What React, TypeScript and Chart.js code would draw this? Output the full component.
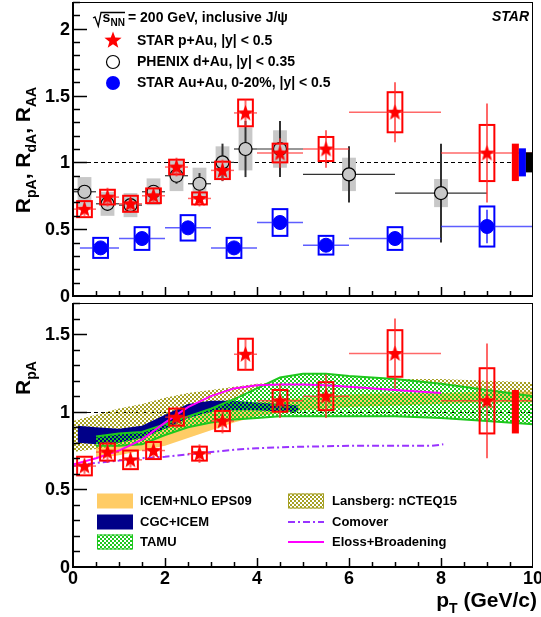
import React, { useEffect, useRef } from "react";
import { Chart, registerables } from "chart.js";
Chart.register(...registerables);

const FONT = '"Liberation Sans", Arial, Helvetica, sans-serif';

// ---------------- STAR p+Au (stars) ----------------
const starPt = [0.25, 0.75, 1.25, 1.75, 2.25, 2.75, 3.25, 3.75, 4.5, 5.5, 7, 9];
const starR = [0.65, 0.74, 0.69, 0.75, 0.965, 0.73, 0.94, 1.37, 1.07, 1.1, 1.375, 1.07];
const starXlo = [0, 0.5, 1, 1.5, 2, 2.5, 3, 3.5, 4, 5, 6, 8];
const starXhi = [0.5, 1, 1.5, 2, 2.5, 3, 3.5, 4, 5, 6, 8, 10];
const starStat = [0.05, 0.07, 0.05, 0.05, 0.07, 0.06, 0.08, 0.1, 0.11, 0.14, 0.225, 0.37];
const starSys = [0.06, 0.055, 0.06, 0.055, 0.055, 0.045, 0.065, 0.1, 0.07, 0.09, 0.15, 0.21];

// ---------------- PHENIX d+Au (open circles) ----------------
const phxPt = [0.25, 0.75, 1.25, 1.75, 2.25, 2.75, 3.25, 3.75, 4.5, 6, 8];
const phxR = [0.78, 0.69, 0.68, 0.78, 0.9, 0.84, 1.0, 1.1, 1.1, 0.91, 0.77];
const phxXlo = [0, 0.5, 1, 1.5, 2, 2.5, 3, 3.5, 4, 5, 7];
const phxXhi = [0.5, 1, 1.5, 2, 2.5, 3, 3.5, 4, 5, 7, 9];
const phxStat = [0.05, 0.05, 0.05, 0.05, 0.06, 0.08, 0.14, 0.21, 0.21, 0.21, 0.37];
const phxSys = [0.11, 0.09, 0.09, 0.1, 0.115, 0.12, 0.12, 0.16, 0.14, 0.125, 0.105];

// ---------------- STAR Au+Au 0-20% (blue circles) ----------------
const aaPt = [0.6, 1.5, 2.5, 3.5, 4.5, 5.5, 7, 9];
const aaR = [0.36, 0.43, 0.51, 0.36, 0.55, 0.38, 0.43, 0.52];
const aaXlo = [0.15, 1, 2, 3, 4, 5, 6, 8];
const aaXhi = [1, 2, 3, 4, 5, 6, 8, 10];
const aaStat = [0.03, 0.03, 0.03, 0.03, 0.04, 0.04, 0.05, 0.125];
const aaSys = [0.075, 0.085, 0.095, 0.075, 0.1, 0.07, 0.085, 0.15];

// ---------------- global uncertainties (around unity) ----------------
const globalErrTop = [0.14, 0.105, 0.075]; // STAR p+Au, STAR Au+Au, PHENIX d+Au
const globalErrBottom = [0.14];

// ---------------- models (bottom panel) ----------------
const icemX = [0.5, 1, 1.5, 2, 2.5, 3, 3.5, 4, 5, 6, 7, 8, 9, 10];
const icemLo = [0.7, 0.72, 0.75, 0.78, 0.83, 0.88, 0.93, 0.97, 1.01, 1.03, 1.04, 1.05, 1.06, 1.06];
const icemHi = [0.77, 0.82, 0.86, 0.91, 0.96, 1.0, 1.03, 1.06, 1.09, 1.11, 1.12, 1.12, 1.13, 1.13];

const cgcX = [0.1, 0.5, 1, 1.5, 2, 2.5, 3, 3.5, 4, 4.5, 4.9];
const cgcLo = [0.8, 0.79, 0.8, 0.83, 0.89, 0.96, 1.0, 1.01, 1.01, 1.0, 1.0];
const cgcHi = [0.91, 0.9, 0.89, 0.91, 0.98, 1.05, 1.07, 1.07, 1.06, 1.05, 1.04];

const tamuX = [0.5, 1, 1.5, 2, 2.5, 3, 3.5, 4, 4.5, 5, 5.5, 6, 7, 8, 9, 10];
const tamuLo = [0.78, 0.78, 0.79, 0.85, 0.9, 0.93, 0.95, 0.96, 0.97, 0.97, 0.97, 0.97, 0.97, 0.96, 0.94, 0.92];
const tamuHi = [0.84, 0.86, 0.87, 0.92, 0.97, 1.02, 1.08, 1.15, 1.22, 1.245, 1.245, 1.23, 1.21, 1.18, 1.14, 1.1];

const lansX = [0, 0.5, 1, 1.5, 2, 2.5, 3, 3.5, 4, 5, 6, 7, 8, 9, 10];
const lansLo = [0.74, 0.76, 0.78, 0.82, 0.87, 0.91, 0.95, 0.98, 1.0, 1.04, 1.06, 1.07, 1.08, 1.08, 1.08];
const lansHi = [0.94, 0.98, 1.02, 1.05, 1.09, 1.12, 1.14, 1.16, 1.18, 1.2, 1.21, 1.21, 1.21, 1.2, 1.19];

const comoverX = [0, 0.5, 1, 1.5, 2, 2.5, 3, 3.5, 4, 4.5, 5, 6, 7, 7.8, 8.05];
const comoverY = [0.65, 0.67, 0.685, 0.7, 0.71, 0.725, 0.74, 0.755, 0.765, 0.77, 0.775, 0.78, 0.78, 0.78, 0.79];

const elossX = [0, 0.5, 1, 1.5, 2, 2.5, 3, 3.5, 4, 4.5, 5, 5.5, 6, 7, 8];
const elossY = [0.66, 0.7, 0.75, 0.82, 0.93, 1.03, 1.1, 1.15, 1.17, 1.175, 1.175, 1.17, 1.16, 1.14, 1.12];

// ---------------- tick labels ----------------
const xTickValues = [0, 2, 4, 6, 8, 10];
const xTickLabels = ["0", "2", "4", "6", "8", "10"];
const yTickValuesTop = [0, 0.5, 1, 1.5, 2];
const yTickLabelsTop = ["0", "0.5", "1", "1.5", "2"];
const yTickValuesBottom = [0, 0.5, 1, 1.5];
const yTickLabelsBottom = ["0", "0.5", "1", "1.5"];

const zip = (xs: number[], ys: number[]) => xs.map((x, i) => ({ x, y: ys[i] }));

function starPath(ctx: CanvasRenderingContext2D, cx: number, cy: number, R: number) {
  const r = R * 0.42;
  ctx.beginPath();
  for (let i = 0; i < 10; i++) {
    const a = -Math.PI / 2 + (i * Math.PI) / 5;
    const rr = i % 2 === 0 ? R : r;
    const px = cx + rr * Math.cos(a);
    const py = cy + rr * Math.sin(a);
    if (i === 0) ctx.moveTo(px, py);
    else ctx.lineTo(px, py);
  }
  ctx.closePath();
}

function makeStarImage(R: number, color: string) {
  const c = document.createElement("canvas");
  const s = Math.ceil(R * 2 + 2);
  c.width = s;
  c.height = s;
  const g = c.getContext("2d")!;
  starPath(g, s / 2, s / 2 + 0.5, R);
  g.fillStyle = color;
  g.fill();
  return c;
}

function makePattern(ctx: CanvasRenderingContext2D, color: string) {
  const c = document.createElement("canvas");
  c.width = 4;
  c.height = 4;
  const g = c.getContext("2d")!;
  g.fillStyle = color;
  g.fillRect(0, 0, 4, 4);
  g.clearRect(0, 0, 2, 2);
  g.clearRect(2, 2, 2, 2);
  return ctx.createPattern(c, "repeat")!;
}

type Part = [string, number];
function drawRich(
  ctx: CanvasRenderingContext2D,
  parts: Part[],
  x: number,
  y: number,
  size: number,
  subSize: number,
  align: "left" | "center" | "right",
  rot = false
) {
  ctx.save();
  ctx.translate(x, y);
  if (rot) ctx.rotate(-Math.PI / 2);
  ctx.textBaseline = "alphabetic";
  ctx.textAlign = "left";
  ctx.fillStyle = "#000";
  const widths = parts.map(([t, s]) => {
    ctx.font = `bold ${s ? subSize : size}px ${FONT}`;
    return ctx.measureText(t).width;
  });
  const W = widths.reduce((a, b) => a + b, 0);
  let u = align === "left" ? 0 : align === "center" ? -W / 2 : -W;
  parts.forEach(([t, s], i) => {
    ctx.font = `bold ${s ? subSize : size}px ${FONT}`;
    ctx.fillText(t, u, s ? size * 0.28 : 0);
    u += widths[i];
  });
  ctx.restore();
}

function drawFrame(chart: any, ymax: number, yVals: number[], yLabels: string[], xLabelsOn: boolean) {
  const { ctx, chartArea: a } = chart;
  const xs = chart.scales.x;
  const ys = chart.scales.y;
  ctx.save();
  ctx.strokeStyle = "#000";
  ctx.lineWidth = 1.5;
  for (let k = 1; k < 20; k++) {
    const v = k * 0.5;
    const len = k % 4 === 0 ? 9 : 5;
    const px = Math.round(xs.getPixelForValue(v)) + 0.5;
    ctx.beginPath();
    ctx.moveTo(px, a.bottom);
    ctx.lineTo(px, a.bottom - len);
    ctx.stroke();
  }
  for (let k = 1; k * 0.1 <= ymax + 1e-9; k++) {
    const len = k % 5 === 0 ? 14 : 7;
    const py = Math.round(ys.getPixelForValue(k * 0.1)) + 0.5;
    ctx.beginPath();
    ctx.moveTo(a.left, py);
    ctx.lineTo(a.left + len, py);
    ctx.stroke();
  }
  ctx.lineWidth = 1;
  ctx.strokeRect(a.left + 0.5, a.top + 0.5, a.right - a.left - 1, a.bottom - a.top - 1);
  ctx.lineWidth = 2;
  ctx.beginPath();
  ctx.moveTo(a.left, a.top);
  ctx.lineTo(a.left, a.bottom);
  ctx.lineTo(a.right, a.bottom);
  ctx.stroke();
  // tick labels
  ctx.fillStyle = "#000";
  ctx.font = `bold 18px ${FONT}`;
  ctx.textAlign = "right";
  ctx.textBaseline = "middle";
  yVals.forEach((v, i) => ctx.fillText(yLabels[i], a.left - 3, ys.getPixelForValue(v) + 1));
  if (xLabelsOn) {
    ctx.textAlign = "center";
    xTickValues.forEach((v, i) => ctx.fillText(xTickLabels[i], xs.getPixelForValue(v), a.bottom + 12));
  }
  ctx.restore();
}

const errPlugin = {
  id: "errs",
  beforeDatasetDraw(chart: any, args: any) {
    const ds: any = chart.data.datasets[args.index];
    const e = ds.errs;
    if (!e) return;
    const ctx = chart.ctx;
    const xs = chart.scales.x;
    const ys = chart.scales.y;
    ctx.save();
    ds.data.forEach((p: any, i: number) => {
      const x0 = xs.getPixelForValue(p.x - e.boxHalf);
      const x1 = xs.getPixelForValue(p.x + e.boxHalf);
      const y0 = ys.getPixelForValue(p.y + e.sys[i]);
      const y1 = ys.getPixelForValue(p.y - e.sys[i]);
      if (e.boxFill) {
        ctx.fillStyle = e.boxFill;
        ctx.fillRect(x0, y0, x1 - x0, y1 - y0);
      }
      if (e.boxStroke) {
        ctx.strokeStyle = e.boxStroke;
        ctx.lineWidth = e.boxLw;
        ctx.strokeRect(x0, y0, x1 - x0, y1 - y0);
      }
    });
    ds.data.forEach((p: any, i: number) => {
      const px = xs.getPixelForValue(p.x);
      const py = ys.getPixelForValue(p.y);
      ctx.strokeStyle = e.barColor;
      ctx.lineWidth = e.hLw;
      ctx.beginPath();
      ctx.moveTo(xs.getPixelForValue(e.xlo[i]), py);
      ctx.lineTo(xs.getPixelForValue(e.xhi[i]), py);
      ctx.stroke();
      ctx.lineWidth = e.vLw;
      ctx.beginPath();
      ctx.moveTo(px, ys.getPixelForValue(p.y + e.stat[i]));
      ctx.lineTo(px, ys.getPixelForValue(p.y - e.stat[i]));
      ctx.stroke();
    });
    ctx.restore();
  },
};

function unityLine(chart: any) {
  const { ctx } = chart;
  const xs = chart.scales.x;
  const ys = chart.scales.y;
  const py = Math.round(ys.getPixelForValue(1)) + 0.5;
  ctx.save();
  ctx.strokeStyle = "#000";
  ctx.lineWidth = 1.2;
  ctx.setLineDash([4, 3]);
  ctx.beginPath();
  ctx.moveTo(xs.getPixelForValue(0), py);
  ctx.lineTo(xs.getPixelForValue(10), py);
  ctx.stroke();
  ctx.restore();
}

function globalBoxes(chart: any, errs: number[], colors: string[]) {
  const { ctx } = chart;
  const xs = chart.scales.x;
  const ys = chart.scales.y;
  const w = 0.153;
  ctx.save();
  errs.forEach((e, i) => {
    const x0 = xs.getPixelForValue(9.54 + i * w);
    const x1 = xs.getPixelForValue(9.54 + (i + 1) * w);
    const y0 = ys.getPixelForValue(1 + e);
    const y1 = ys.getPixelForValue(1 - e);
    ctx.fillStyle = colors[i];
    ctx.fillRect(x0, y0, x1 - x0, y1 - y0);
  });
  ctx.restore();
}

export default function App() {
  const topRef = useRef<HTMLCanvasElement>(null);
  const botRef = useRef<HTMLCanvasElement>(null);

  useEffect(() => {
    const topCanvas = topRef.current!;
    const botCanvas = botRef.current!;
    const starImg = makeStarImage(8.5, "#FF0000");
    const botCtx = botCanvas.getContext("2d")!;
    const OLIVE = "rgb(165,160,35)";
    const olivePat = makePattern(botCtx, OLIVE);
    const GREEN = "rgb(30,200,30)";
    const greenPat = makePattern(botCtx, GREEN);
    const ORANGE = "rgb(255,204,102)";
    const NAVY = "rgb(0,0,136)";
    const PURPLE = "rgb(153,51,255)";
    const MAGENTA = "#FF00FF";

    const starErrs = {
      xlo: starXlo,
      xhi: starXhi,
      stat: starStat,
      sys: starSys,
      boxHalf: 0.16,
      boxStroke: "#FF0000",
      boxLw: 2,
      barColor: "rgba(255,40,40,0.7)",
      hLw: 1.5,
      vLw: 2,
    };

    const topChart = new Chart(topCanvas, {
      type: "scatter",
      data: {
        datasets: [
          {
            label: "STAR p+Au, |y| < 0.5",
            data: zip(starPt, starR),
            pointStyle: starImg as any,
            pointRadius: 9,
            errs: starErrs,
          } as any,
          {
            label: "STAR Au+Au, 0-20%, |y| < 0.5",
            data: zip(aaPt, aaR),
            pointStyle: "circle",
            pointRadius: 7,
            backgroundColor: "#0000FF",
            borderColor: "#0000FF",
            borderWidth: 1,
            errs: {
              xlo: aaXlo,
              xhi: aaXhi,
              stat: aaStat,
              sys: aaSys,
              boxHalf: 0.16,
              boxStroke: "#0000FF",
              boxLw: 2,
              barColor: "rgba(40,40,255,0.75)",
              hLw: 1.5,
              vLw: 2,
            },
          } as any,
          {
            label: "PHENIX d+Au, |y| < 0.35",
            data: zip(phxPt, phxR),
            pointStyle: "circle",
            pointRadius: 6.5,
            backgroundColor: "#C8C8C8",
            borderColor: "#000",
            borderWidth: 1.2,
            errs: {
              xlo: phxXlo,
              xhi: phxXhi,
              stat: phxStat,
              sys: phxSys,
              boxHalf: 0.15,
              boxFill: "#C8C8C8",
              barColor: "rgb(50,50,50)",
              hLw: 1.2,
              vLw: 2,
            },
          } as any,
        ],
      },
      options: {
        animation: false,
        responsive: false,
        events: [],
        layout: { autoPadding: false, padding: { left: 73, right: 8, top: 2, bottom: 14 } },
        plugins: { legend: { display: false }, tooltip: { enabled: false } },
        scales: {
          x: { type: "linear", min: 0, max: 10, display: false },
          y: { type: "linear", min: 0, max: 2.2, display: false },
        },
      },
      plugins: [
        errPlugin,
        {
          id: "topDecor",
          beforeDatasetsDraw(chart: any) {
            unityLine(chart);
          },
          afterDatasetsDraw(chart: any) {
            globalBoxes(chart, globalErrTop, ["#FF0000", "#0000FF", "#000000"]);
          },
          afterDraw(chart: any) {
            const ctx = chart.ctx;
            drawFrame(chart, 2.2, yTickValuesTop, yTickLabelsTop, false);
            drawRich(
              ctx,
              [["R", 0], ["pA", 1], [", R", 0], ["dA", 1], [", R", 0], ["AA", 1]],
              30,
              150,
              21,
              14,
              "center",
              true
            );
            ctx.save();
            // sqrt(s_NN) header
            ctx.strokeStyle = "#000";
            ctx.lineWidth = 1.3;
            ctx.beginPath();
            ctx.moveTo(93, 18);
            ctx.lineTo(95, 17);
            ctx.lineTo(98.3, 26);
            ctx.lineTo(101, 12.5);
            ctx.lineTo(125, 12.5);
            ctx.stroke();
            ctx.fillStyle = "#000";
            ctx.textBaseline = "alphabetic";
            ctx.textAlign = "left";
            ctx.font = `bold 14px ${FONT}`;
            ctx.fillText("s", 102.5, 22);
            ctx.font = `bold 10px ${FONT}`;
            ctx.fillText("NN", 110.5, 26);
            ctx.font = `bold 14px ${FONT}`;
            ctx.fillText("= 200 GeV, inclusive J/\u03C8", 128, 22);
            // STAR label
            ctx.font = `italic bold 14px ${FONT}`;
            ctx.textAlign = "right";
            ctx.fillText("STAR", 529, 21);
            // legend markers
            starPath(ctx, 113, 40.5, 9);
            ctx.fillStyle = "#FF0000";
            ctx.fill();
            ctx.beginPath();
            ctx.arc(113, 62, 6.5, 0, Math.PI * 2);
            ctx.fillStyle = "#FFFFFF";
            ctx.fill();
            ctx.lineWidth = 1.2;
            ctx.strokeStyle = "#000";
            ctx.stroke();
            ctx.beginPath();
            ctx.arc(113, 83, 7, 0, Math.PI * 2);
            ctx.fillStyle = "#0000FF";
            ctx.fill();
            ctx.fillStyle = "#000";
            ctx.textAlign = "left";
            ctx.textBaseline = "middle";
            ctx.font = `bold 14px ${FONT}`;
            ctx.fillText("STAR p+Au, |y| < 0.5", 137, 41);
            ctx.fillText("PHENIX d+Au, |y| < 0.35", 137, 62);
            ctx.fillText("STAR Au+Au, 0-20%, |y| < 0.5", 137, 83);
            ctx.restore();
          },
        },
      ],
    } as any);

    const band = (xs: number[], lo: number[], hi: number[], fill: any, line: string) => [
      {
        type: "line",
        data: zip(xs, lo),
        borderColor: line,
        borderWidth: 2,
        pointRadius: 0,
        fill: false,
        tension: 0,
      },
      {
        type: "line",
        data: zip(xs, hi),
        borderColor: line,
        borderWidth: 2,
        pointRadius: 0,
        fill: "-1",
        backgroundColor: fill,
        tension: 0,
      },
    ];

    const botChart = new Chart(botCanvas, {
      type: "scatter",
      data: {
        datasets: [
          {
            label: "STAR p+Au",
            data: zip(starPt, starR),
            pointStyle: starImg as any,
            pointRadius: 9,
            errs: starErrs,
          } as any,
          {
            type: "line",
            label: "Eloss+Broadening",
            data: zip(elossX, elossY),
            borderColor: MAGENTA,
            borderWidth: 2,
            pointRadius: 0,
            fill: false,
            tension: 0,
          },
          {
            type: "line",
            label: "Comover",
            data: zip(comoverX, comoverY),
            borderColor: PURPLE,
            borderWidth: 2,
            borderDash: [7, 3, 2, 3],
            pointRadius: 0,
            fill: false,
            tension: 0,
          },
          ...band(tamuX, tamuLo, tamuHi, greenPat, GREEN),
          ...band(cgcX, cgcLo, cgcHi, NAVY, "rgba(0,0,0,0)"),
          ...band(lansX, lansLo, lansHi, olivePat, "rgba(0,0,0,0)"),
          ...band(icemX, icemLo, icemHi, ORANGE, "rgba(0,0,0,0)"),
        ] as any,
      },
      options: {
        animation: false,
        responsive: false,
        events: [],
        layout: { autoPadding: false, padding: { left: 73, right: 8, top: 3, bottom: 50 } },
        plugins: { legend: { display: false }, tooltip: { enabled: false } },
        scales: {
          x: { type: "linear", min: 0, max: 10, display: false },
          y: { type: "linear", min: 0, max: 1.7, display: false },
        },
      },
      plugins: [
        errPlugin,
        {
          id: "botDecor",
          beforeDatasetsDraw(chart: any) {
            unityLine(chart);
          },
          afterDatasetsDraw(chart: any) {
            globalBoxes(chart, globalErrBottom, ["#FF0000"]);
          },
          afterDraw(chart: any) {
            const ctx = chart.ctx;
            drawFrame(chart, 1.7, yTickValuesBottom, yTickLabelsBottom, true);
            drawRich(ctx, [["R", 0], ["pA", 1]], 30, 78, 21, 14, "center", true);
            drawRich(ctx, [["p", 0], ["T", 1], [" (GeV/c)", 0]], 537, 307, 21, 14, "right");
            ctx.save();
            const rows = [201, 222, 242];
            const bw = 36;
            const bh = 15;
            // left column
            ctx.fillStyle = ORANGE;
            ctx.fillRect(97, rows[0] - bh / 2, bw, bh);
            ctx.fillStyle = NAVY;
            ctx.fillRect(97, rows[1] - bh / 2, bw, bh);
            ctx.fillStyle = greenPat;
            ctx.fillRect(97, rows[2] - bh / 2, bw, bh);
            ctx.strokeStyle = GREEN;
            ctx.lineWidth = 1;
            ctx.strokeRect(97.5, rows[2] - bh / 2 + 0.5, bw - 1, bh - 1);
            // right column
            ctx.fillStyle = olivePat;
            ctx.fillRect(288, rows[0] - bh / 2, bw, bh);
            ctx.strokeStyle = OLIVE;
            ctx.strokeRect(288.5, rows[0] - bh / 2 + 0.5, bw - 1, bh - 1);
            ctx.lineWidth = 2;
            ctx.strokeStyle = PURPLE;
            ctx.setLineDash([7, 3, 2, 3]);
            ctx.beginPath();
            ctx.moveTo(288, rows[1]);
            ctx.lineTo(324, rows[1]);
            ctx.stroke();
            ctx.setLineDash([]);
            ctx.strokeStyle = MAGENTA;
            ctx.beginPath();
            ctx.moveTo(288, rows[2]);
            ctx.lineTo(324, rows[2]);
            ctx.stroke();
            ctx.fillStyle = "#000";
            ctx.textAlign = "left";
            ctx.textBaseline = "middle";
            ctx.font = `bold 13px ${FONT}`;
            ctx.fillText("ICEM+NLO EPS09", 140, rows[0]);
            ctx.fillText("CGC+ICEM", 140, rows[1]);
            ctx.fillText("TAMU", 140, rows[2]);
            ctx.fillText("Lansberg: nCTEQ15", 332, rows[0]);
            ctx.fillText("Comover", 332, rows[1]);
            ctx.fillText("Eloss+Broadening", 332, rows[2]);
            ctx.restore();
          },
        },
      ],
    } as any);

    return () => {
      topChart.destroy();
      botChart.destroy();
    };
  }, []);

  return (
    <div style={{ position: "fixed", left: 0, top: 0, width: 541, height: 617, background: "#fff" }}>
      <canvas ref={topRef} width={541} height={310} style={{ position: "absolute", left: 0, top: 0 }} />
      <canvas ref={botRef} width={541} height={317} style={{ position: "absolute", left: 0, top: 300 }} />
    </div>
  );
}
